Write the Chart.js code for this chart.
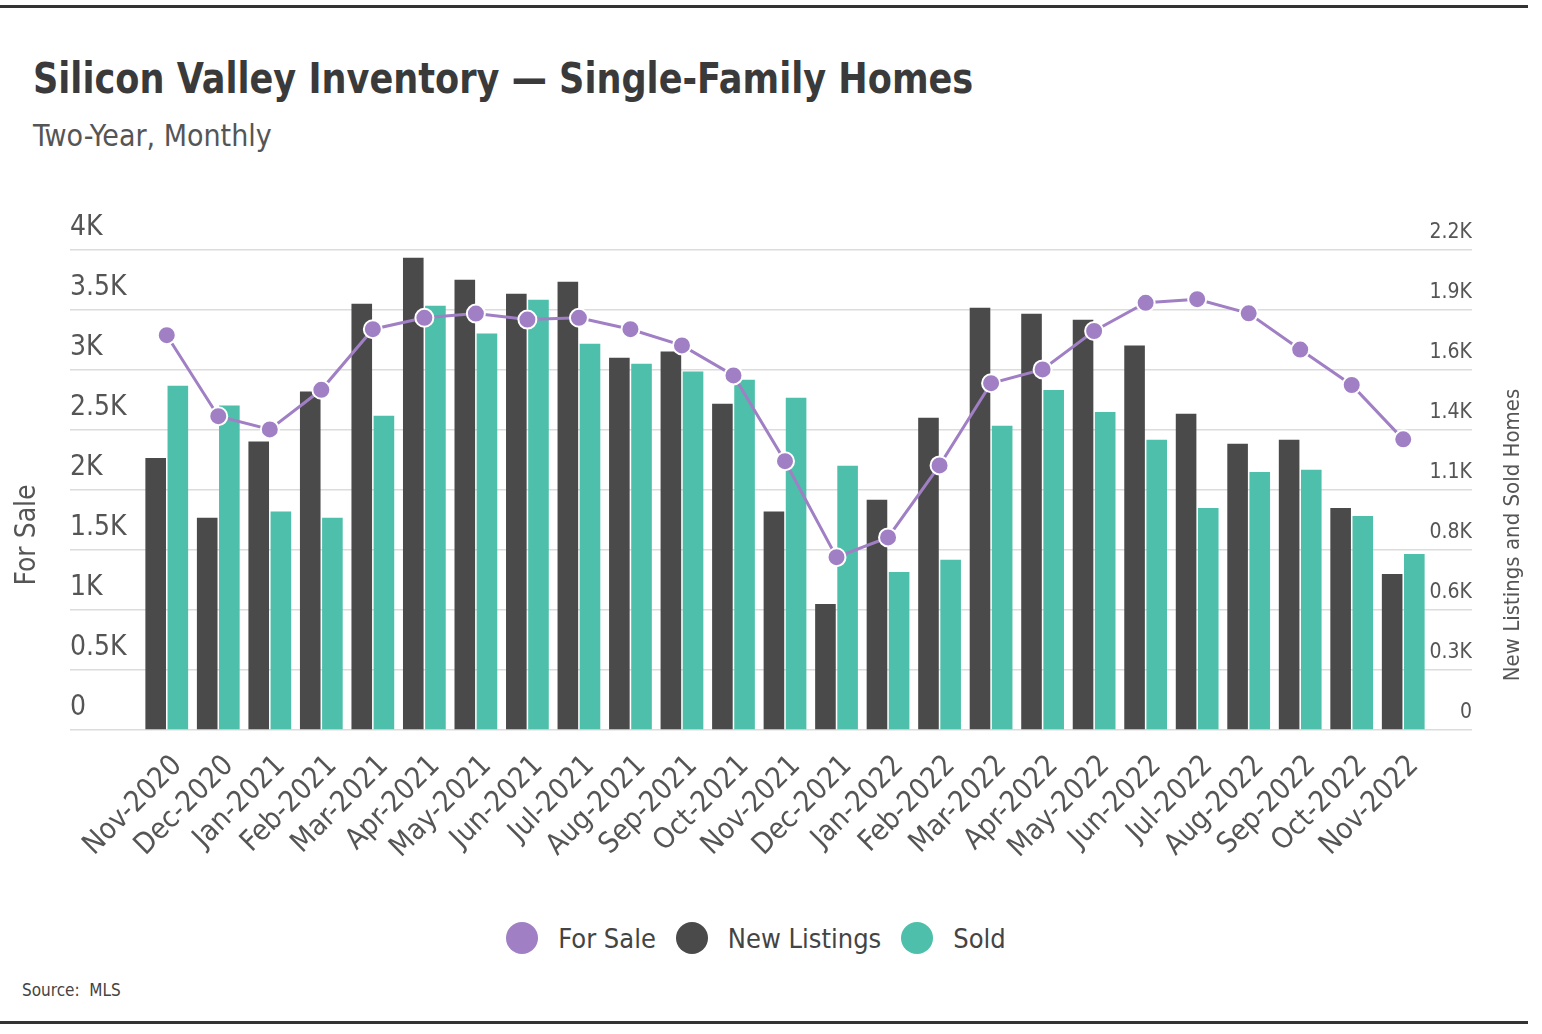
<!DOCTYPE html>
<html>
<head>
<meta charset="utf-8">
<script src="https://cdn.jsdelivr.net/npm/chart.js@4.4.1/dist/chart.umd.min.js"></script>
<style>
  html, body { margin: 0; padding: 0; background: #fff; }
  body { width: 1542px; height: 1034px; position: relative; overflow: hidden;
         font-family: 'DejaVu Sans Condensed', sans-serif; }
  .rule { position: absolute; left: 0; width: 1528px; height: 3px; background: #333; }
  #title { position: absolute; left: 33px; top: 54px; font-size: 42px; font-weight: bold; color: #3a3a3a;
           white-space: nowrap; transform: scaleX(0.93); transform-origin: left center; }
  #subtitle { position: absolute; left: 33px; top: 118px; font-size: 30px; color: #555; white-space: nowrap; }
  #source { position: absolute; left: 22px; top: 980px; font-size: 17px; color: #444; }
  #wrap { position: absolute; left: 0; top: 200px; width: 1528px; height: 700px; }
  #legend { position: absolute; left: 0; width: 1512px; top: 920px; height: 36px;
            display: flex; justify-content: center; align-items: center; gap: 20px;
            font-size: 27px; color: #444; }
  #legend .item { display: flex; align-items: center; gap: 20px; }
  #legend .dot { width: 32px; height: 32px; border-radius: 50%; }
</style>
</head>
<body>
<div class="rule" style="top:5px"></div>
<div id="title">Silicon Valley Inventory — Single-Family Homes</div>
<div id="subtitle">Two-Year, Monthly</div>
<div id="wrap"><canvas id="invChart"></canvas></div>
<div id="legend"></div>
<div id="source">Source:&nbsp; MLS</div>
<div class="rule" style="top:1021px"></div>

<script>
// ── Datos ──
const meses = [
  'Nov-2020', 'Dec-2020', 'Jan-2021', 'Feb-2021', 'Mar-2021', 'Apr-2021', 'May-2021',
  'Jun-2021', 'Jul-2021', 'Aug-2021', 'Sep-2021', 'Oct-2021', 'Nov-2021', 'Dec-2021',
  'Jan-2022', 'Feb-2022', 'Mar-2022', 'Apr-2022', 'May-2022', 'Jun-2022', 'Jul-2022',
  'Aug-2022', 'Sep-2022', 'Oct-2022', 'Nov-2022'
];
const forSale = [3290, 2615, 2505, 2835, 3340, 3435, 3470, 3420, 3435, 3340, 3205, 2955, 2240,
  1440, 1605, 2205, 2890, 3005, 3325, 3560, 3590, 3472, 3170, 2875, 2422];
const newListings = [1247, 973, 1322, 1551, 1954, 2165, 2064, 2000, 2055, 1706, 1735, 1495, 1001,
  578, 1055, 1431, 1935, 1908, 1880, 1762, 1450, 1312, 1330, 1018, 715];
const sold = [1578, 1487, 1001, 973, 1440, 1945, 1817, 1972, 1770, 1679, 1643, 1605, 1523,
  1211, 724, 780, 1394, 1558, 1458, 1330, 1018, 1183, 1193, 981, 807];
const ticksIzq = ['0', '0.5K', '1K', '1.5K', '2K', '2.5K', '3K', '3.5K', '4K'];
const ticksDer = ['0', '0.3K', '0.6K', '0.8K', '1.1K', '1.4K', '1.6K', '1.9K', '2.2K'];

const FONT = "'DejaVu Sans Condensed', sans-serif";
const GRID = '#dcdcdc';
const MORADO = '#a07fc5';
const GRIS = '#4a4a4a';
const VERDE = '#4dbfaa';

// ── Títulos de ejes ──
const axisTitles = {
  id: 'axisTitles',
  afterDraw(chart) {
    const { ctx } = chart;
    ctx.save();
    ctx.fillStyle = '#555';
    ctx.textAlign = 'center';
    ctx.textBaseline = 'middle';
    ctx.font = `28px ${FONT}`;
    ctx.translate(28, 335);
    ctx.rotate(-Math.PI / 2);
    ctx.fillText('For Sale', 0, 0);
    ctx.restore();

    ctx.save();
    ctx.fillStyle = '#555';
    ctx.textAlign = 'center';
    ctx.textBaseline = 'middle';
    ctx.font = `22px ${FONT}`;
    ctx.translate(1513, 335);
    ctx.rotate(-Math.PI / 2);
    ctx.fillText('New Listings and Sold Homes', 0, 0);
    ctx.restore();
  }
};

const chart = new Chart(document.getElementById('invChart'), {
  data: {
    labels: meses,
    datasets: [
      {
        type: 'line', label: 'For Sale', data: forSale, yAxisID: 'y', order: 0,
        borderColor: MORADO, backgroundColor: MORADO, borderWidth: 3, tension: 0,
        pointRadius: 9, pointHoverRadius: 9, pointBackgroundColor: MORADO,
        pointBorderColor: '#fff', pointBorderWidth: 2
      },
      {
        type: 'bar', label: 'New Listings', data: newListings, yAxisID: 'y1', order: 1,
        backgroundColor: GRIS, borderWidth: 0, categoryPercentage: 0.86, barPercentage: 0.93
      },
      {
        type: 'bar', label: 'Sold', data: sold, yAxisID: 'y1', order: 1,
        backgroundColor: VERDE, borderWidth: 0, categoryPercentage: 0.86, barPercentage: 0.93
      }
    ]
  },
  options: {
    responsive: true,
    maintainAspectRatio: false,
    animation: false,
    layout: { padding: { left: 70, right: 56, top: 50, bottom: 20 } },
    scales: {
      x: {
        grid: { display: false },
        border: { display: false },
        ticks: {
          color: '#555', font: { family: FONT, size: 29 },
          minRotation: 45, maxRotation: 45, autoSkip: false, padding: 11, labelOffset: 11
        },
        afterFit: s => { s.height = 150; }
      },
      y: {
        position: 'left', min: 0, max: 4000,
        border: { display: false },
        grid: { color: GRID, lineWidth: 1.5, tickLength: 71, tickColor: GRID },
        ticks: {
          stepSize: 500, color: '#555', font: { family: FONT, size: 28 },
          crossAlign: 'far', labelOffset: -22, padding: 0,
          callback: (v, i) => ticksIzq[i]
        },
        afterFit: s => { s.width = 71; }
      },
      y1: {
        position: 'right', min: 0, max: 2200,
        border: { display: false },
        grid: { drawOnChartArea: false, color: GRID, lineWidth: 1.5, tickLength: 43, tickColor: GRID },
        ticks: {
          stepSize: 275, color: '#555', font: { family: FONT, size: 21 },
          crossAlign: 'far', labelOffset: -17, padding: 0,
          callback: (v, i) => ticksDer[i]
        },
        afterFit: s => { s.width = 43; }
      }
    },
    plugins: {
      legend: { display: false },
      tooltip: { enabled: false }
    }
  },
  plugins: [axisTitles]
});

// ── Leyenda ──
const legendEl = document.getElementById('legend');
chart.data.datasets.forEach(ds => {
  const item = document.createElement('div');
  item.className = 'item';
  const dot = document.createElement('span');
  dot.className = 'dot';
  dot.style.background = ds.backgroundColor;
  const txt = document.createElement('span');
  txt.textContent = ds.label;
  item.append(dot, txt);
  legendEl.appendChild(item);
});
</script>
</body>
</html>
